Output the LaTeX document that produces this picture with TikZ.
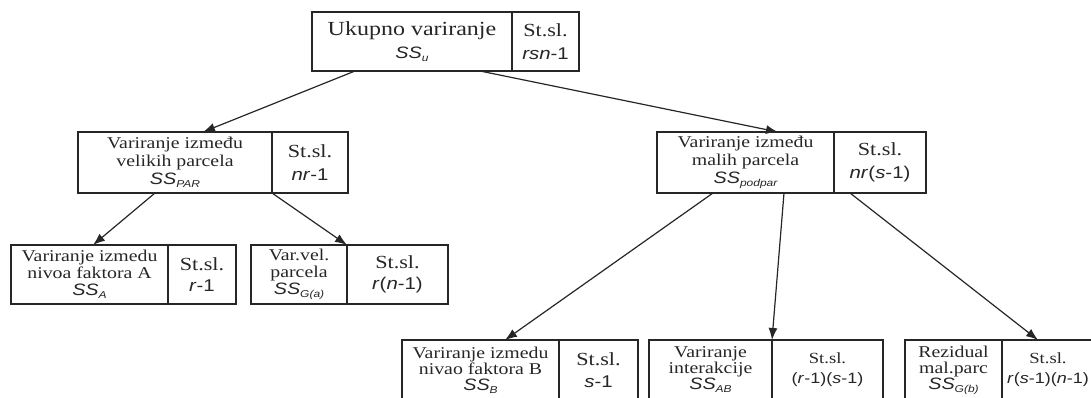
\documentclass[tikz,border=0pt]{standalone}
\usepackage{fontspec}
\setmainfont{Liberation Serif}[FakeStretch=1.2]
\newfontfamily\sansf{Liberation Sans}[FakeStretch=1.2]
\usetikzlibrary{positioning,arrows.meta}
\newcommand{\SSx}[2][16.5]{{\sansf\fontsize{#1}{#1}\selectfont\itshape SS\raisebox{-0.35ex}{\fontsize{10}{10}\selectfont#2}}}
\newcommand{\dfx}[2][17]{{\sansf\fontsize{#1}{#1}\selectfont#2}}

\begin{document}
\begin{tikzpicture}[x=1pt,y=-1pt,
  box/.style={rectangle,draw=black!85,line width=1.4pt,inner sep=0pt,outer sep=0pt,align=center,text=black!85},
  desc/.style={box,anchor=north west},
  arr/.style={-{Latex[length=12pt,width=9pt]},line width=1.2pt,draw=black!85}]
\useasboundingbox (0,0) rectangle (1091,398);
\clip (0,0) rectangle (1091,398);

\node[desc,minimum width=200pt,minimum height=59pt,font=\fontsize{20}{23}\selectfont] (uk) at (312,12) {Ukupno variranje\\\SSx{u}};
\node[box,right=0pt of uk,minimum width=67pt,minimum height=59pt,font=\fontsize{18.5}{23}\selectfont] (uk-ss) {St.sl.\\\dfx{\textit{rsn}-1}};

\node[desc,minimum width=194pt,minimum height=61pt,font=\fontsize{16.5}{18}\selectfont] (par) at (78,132) {Variranje između\\velikih parcela\\\SSx{PAR}};
\node[box,right=0pt of par,minimum width=76pt,minimum height=61pt,font=\fontsize{18.5}{23}\selectfont] (par-ss) {St.sl.\\\dfx{\textit{nr}-1}};

\node[desc,minimum width=177pt,minimum height=61pt,font=\fontsize{16.5}{18}\selectfont] (podpar) at (657,132) {Variranje između\\malih parcela\\\SSx{podpar}};
\node[box,right=0pt of podpar,minimum width=92pt,minimum height=61pt,font=\fontsize{18.5}{23}\selectfont] (podpar-ss) {St.sl.\\\dfx{\textit{nr}(\textit{s}-1)}};

\node[desc,minimum width=157pt,minimum height=59pt,font=\fontsize{16.5}{17}\selectfont] (fa) at (11,245) {Variranje izmedu\\nivoa faktora A\\\SSx{A}};
\node[box,right=0pt of fa,minimum width=68pt,minimum height=59pt,font=\fontsize{18.5}{21}\selectfont] (fa-ss) {St.sl.\\\dfx{\textit{r}-1}};

\node[desc,minimum width=96pt,minimum height=59pt,font=\fontsize{16.5}{17}\selectfont] (ga) at (251,245) {Var.vel.\\parcela\\\SSx{G(a)}};
\node[box,right=0pt of ga,minimum width=101pt,minimum height=59pt,font=\fontsize{18.5}{21}\selectfont] (ga-ss) {St.sl.\\\dfx{\textit{r}(\textit{n}-1)}};

\node[desc,minimum width=157pt,minimum height=60pt,font=\fontsize{16.5}{16}\selectfont] (fb) at (402,340) {Variranje izmedu\\nivao faktora B\\\SSx{B}};
\node[box,right=0pt of fb,minimum width=79pt,minimum height=60pt,font=\fontsize{18.5}{22}\selectfont] (fb-ss) {St.sl.\\\dfx{\textit{s}-1}};

\node[desc,minimum width=123pt,minimum height=60pt,font=\fontsize{16.5}{16}\selectfont] (ab) at (649,340) {Variranje\\interakcije\\\SSx{AB}};
\node[box,right=0pt of ab,minimum width=111pt,minimum height=60pt,font=\fontsize{15.5}{20}\selectfont] (ab-ss) {St.sl.\\\dfx[15]{(\textit{r}-1)(\textit{s}-1)}};

\node[desc,minimum width=97pt,minimum height=60pt,font=\fontsize{16.5}{16}\selectfont] (gb) at (905,340) {Rezidual\\mal.parc\\\SSx{G(b)}};
\node[box,right=0pt of gb,minimum width=92pt,minimum height=60pt,font=\fontsize{15.5}{20}\selectfont] (gb-ss) {St.sl.\\\dfx[15]{\textit{r}(\textit{s}-1)(\textit{n}-1)}};

\draw[arr] ([xshift=43pt]uk.south west) -- ([xshift=125pt]par.north west);
\draw[arr] ([xshift=168pt]uk.south west) -- ([xshift=121pt]podpar.north west);
\draw[arr] ([xshift=77pt]par.south west) -- ([xshift=82pt]fa.north west);
\draw[arr] (par.south east) -- (ga.north east);
\draw[arr] ([xshift=56pt]podpar.south west) -- ([xshift=103pt]fb.north west);
\draw[arr] ([xshift=127pt]podpar.south west) -- (ab.north east);
\draw[arr] ([xshift=16pt]podpar-ss.south west) -- ([xshift=36pt]gb-ss.north west);
\end{tikzpicture}
\end{document}
